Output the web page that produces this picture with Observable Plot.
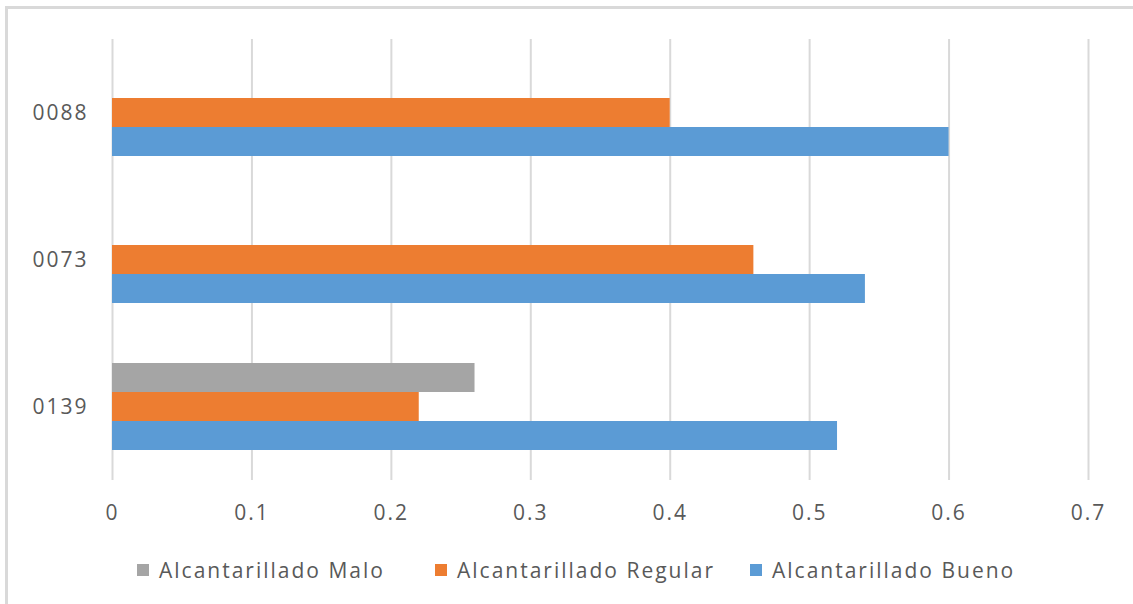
<!DOCTYPE html>
<html><head><meta charset="utf-8">
<script src="https://cdn.jsdelivr.net/npm/d3@7"></script>
<script src="https://cdn.jsdelivr.net/npm/@observablehq/plot@0.6"></script>
<style>
html,body{margin:0;padding:0;background:#fff;font-family:"Open Sans",sans-serif;overflow:hidden;}
#frame{position:absolute;left:5px;top:6px;width:1140px;height:610px;border:3px solid #d9d9d9;box-sizing:border-box;}
#chart{position:absolute;left:0;top:0;}
.legend-item{position:absolute;top:556px;height:28px;font-size:21px;letter-spacing:2px;color:#595959;display:flex;align-items:center;white-space:nowrap;}
.sw{width:12px;height:12px;margin-right:10px;}
</style></head><body>
<div id="frame"></div>
<div id="chart"></div>
<div id="legend"></div>
<script>
const categories = ["0088", "0073", "0139"];
const series = ["Alcantarillado Malo", "Alcantarillado Regular", "Alcantarillado Bueno"];
const malo = [0, 0, 0.26];
const regular = [0.40, 0.46, 0.22];
const bueno = [0.60, 0.54, 0.52];
const xTicks = [0, 0.1, 0.2, 0.3, 0.4, 0.5, 0.6, 0.7];
const colors = ["#a5a5a5", "#ed7d31", "#5b9bd5"];
const legendLeft = [137, 435, 750];

const seriesValues = [malo, regular, bueno];
const data = [];
categories.forEach((c, i) => {
  series.forEach((s, j) => {
    data.push({category: c, series: s, value: seriesValues[j][i]});
  });
});

const chart = Plot.plot({
  width: 1133,
  height: 540,
  marginLeft: 112,
  marginRight: 45,
  marginTop: 38,
  marginBottom: 59,
  style: {fontFamily: "'Open Sans', sans-serif", fontSize: "21px", letterSpacing: "2px", color: "#595959", background: "transparent"},
  x: {domain: [0, 0.7], ticks: xTicks, tickFormat: d => String(+d.toFixed(1)), tickSize: 0, tickPadding: 25, label: null},
  fy: {domain: categories, padding: 0, label: null, tickSize: 0, tickPadding: 24, axis: "left"},
  y: {domain: series, paddingInner: 0, paddingOuter: 0.96, axis: null},
  color: {domain: series, range: colors},
  marks: [
    Plot.gridX(xTicks, {stroke: "#d9d9d9", strokeOpacity: 1, strokeWidth: 2}),
    Plot.barX(data, {x: "value", y: "series", fy: "category", fill: "series"})
  ]
});
document.getElementById("chart").appendChild(chart);

const legend = document.getElementById("legend");
series.forEach((s, i) => {
  const item = document.createElement("div");
  item.className = "legend-item";
  item.style.left = legendLeft[i] + "px";
  const sw = document.createElement("span");
  sw.className = "sw";
  sw.style.background = colors[i];
  const t = document.createElement("span");
  t.textContent = s;
  item.appendChild(sw);
  item.appendChild(t);
  legend.appendChild(item);
});
</script>
</body></html>
